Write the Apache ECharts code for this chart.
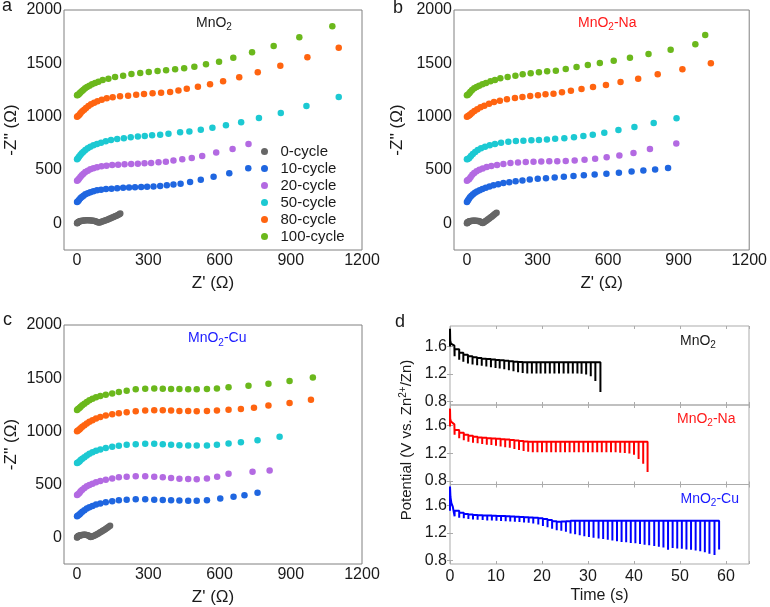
<!DOCTYPE html>
<html><head><meta charset="utf-8">
<script src="https://cdn.jsdelivr.net/npm/echarts@6/dist/echarts.min.js"></script>
<style>html,body{margin:0;padding:0;background:#fff}#c{width:770px;height:607px}</style>
</head><body><div id="c"></div>
<script>
// ---------------- DATA ----------------
const cycleNames = ['0-cycle','10-cycle','20-cycle','50-cycle','80-cycle','100-cycle'];
const zTicksX = [0,300,600,900,1200];
const zTicksY = [0,500,1000,1500,2000];
const vTicks = [0.8,1.2,1.6];
const tTicks = [0,10,20,30,40,50,60];

// Panel a (MnO2)
const a_c0_x = [0,1,2,4,6,8,11,14,18,22,27,32,38,44,50,56,62,68,74,80,85,90,95,100,106,112,118,124,130,136,142,148,154,160,166,172,178,182];
const a_c0_y = [0,3,6,10,13,16,19,21,23,25,26,27,28,28,28,27,26,24,21,17,12,7,8,12,17,22,27,32,37,42,48,54,60,66,72,79,86,92];
const a_c10_x = [0,4,8,14,20,27,35,45,56,69,84,101,122,145,169,194,219,244,270,295,322,350,378,406,436,476,521,575,641,721];
const a_c10_y = [200,206,219,234,247,259,272,281,291,300,309,316,322,325,330,334,337,339,341,343,346,350,356,363,372,388,408,436,470,516];
const a_c20_x = [0,4,8,14,20,27,35,45,56,69,84,103,124,148,173,200,228,256,284,312,343,374,406,443,483,527,586,655,722];
const a_c20_y = [400,406,419,434,450,466,481,494,506,516,525,534,541,547,550,553,556,559,563,566,572,578,588,600,613,631,663,697,744];
const a_c50_x = [0,4,8,14,20,27,35,45,56,69,84,101,121,143,169,197,226,256,285,316,350,385,434,473,521,570,627,691,766,858,966,1102];
const a_c50_y = [600,609,625,641,656,672,688,703,719,731,744,756,769,781,791,797,806,813,819,825,831,840,853,862,878,896,919,947,987,1034,1100,1184];
const a_c80_x = [0,4,10,15,22,30,38,48,59,72,86,104,125,150,181,215,249,282,318,354,392,427,462,509,560,615,683,761,856,970,1102];
const a_c80_y = [1000,1006,1019,1034,1050,1066,1081,1100,1116,1131,1144,1159,1172,1181,1191,1197,1206,1213,1219,1225,1232,1245,1262,1281,1303,1331,1369,1416,1478,1556,1646];
const a_c100_x = [0,3,7,11,15,21,27,34,42,52,63,76,90,108,132,160,194,229,266,302,339,375,413,451,494,543,598,658,737,828,936,1075];
const a_c100_y = [1200,1203,1209,1219,1228,1241,1253,1266,1278,1291,1303,1316,1328,1344,1356,1372,1384,1400,1409,1419,1428,1434,1444,1453,1468,1491,1515,1552,1603,1662,1744,1847];

// Panel b (MnO2-Na)
const b_c0_x = [0,1,2,3,5,7,9,12,15,19,23,27,31,35,40,45,50,55,60,64,67,71,75,80,85,90,95,100,105,110,115,120,126];
const b_c0_y = [0,3,6,9,12,15,17,19,21,23,24,25,25,25,24,23,21,17,12,6,3,8,14,22,30,38,46,54,62,71,80,89,100];
const b_c10_x = [0,4,8,13,19,26,34,43,54,66,80,96,113,133,155,180,207,236,267,301,336,373,412,453,497,543,593,646,700,750,800,855];
const b_c10_y = [200,214,229,244,259,273,286,299,310,321,334,346,357,367,377,386,394,402,410,417,423,430,436,443,450,458,466,475,485,495,505,518];
const b_c20_x = [0,4,10,16,23,31,41,53,67,84,104,128,155,185,217,250,283,316,350,384,420,458,500,545,594,648,708,778,890];
const b_c20_y = [400,406,415,435,455,472,488,502,515,528,538,548,557,565,571,575,578,580,581,582,584,588,595,606,620,636,660,697,748];
const b_c50_x = [0,4,10,17,25,35,46,60,77,97,119,145,176,208,240,274,306,340,375,414,455,495,535,584,644,712,794,891];
const b_c50_y = [600,604,613,631,650,669,688,703,719,731,744,756,766,772,775,778,781,786,792,798,806,818,831,849,875,903,940,984];
const b_c80_x = [0,5,10,15,22,32,44,58,74,94,115,140,170,204,236,269,302,334,368,404,442,487,536,591,653,728,811,916,1037];
const b_c80_y = [1000,1006,1014,1022,1036,1053,1069,1088,1103,1122,1138,1150,1163,1175,1184,1194,1200,1209,1216,1228,1243,1259,1278,1297,1325,1356,1397,1444,1500];
const b_c100_x = [0,4,10,15,22,31,41,52,66,81,100,119,142,173,206,237,271,306,341,378,420,466,514,565,624,693,772,866,971,1013];
const b_c100_y = [1200,1206,1219,1234,1250,1266,1278,1291,1303,1316,1331,1344,1359,1372,1384,1397,1406,1416,1425,1431,1447,1465,1484,1503,1525,1553,1587,1628,1678,1765];

// Panel c (MnO2-Cu)
const c_c0_x = [0,1,2,3,5,7,9,12,15,19,23,27,31,35,40,45,50,54,57,61,66,72,78,84,90,96,102,108,114,120,126,132,139];
const c_c0_y = [0,3,6,9,12,15,17,19,21,23,24,25,25,25,24,21,15,9,5,7,11,17,24,31,38,46,54,62,70,79,88,98,109];
const c_c10_x = [0,4,10,15,22,31,41,52,65,80,98,121,148,176,209,247,287,325,361,396,431,468,504,547,603,659,705,760];
const c_c10_y = [200,206,216,228,241,256,272,284,297,309,319,331,341,350,356,359,359,356,353,350,347,345,345,350,366,384,397,420];
const c_c20_x = [0,4,10,15,22,31,41,52,65,80,98,121,148,176,209,247,287,325,361,396,431,468,504,547,590,638,739,811];
const c_c20_y = [400,406,419,434,450,466,481,494,506,519,531,544,556,566,572,575,575,572,566,559,553,550,547,556,572,600,619,631];
const c_c50_x = [0,4,10,15,22,31,41,52,65,80,98,121,148,176,209,247,287,325,361,396,431,468,504,547,589,638,690,760,853];
const c_c50_y = [700,706,716,728,741,756,772,788,803,816,828,841,853,863,872,878,881,881,878,872,869,866,866,866,872,884,897,916,947];
const c_c80_x = [0,4,10,15,22,31,41,52,65,80,98,121,148,176,209,247,287,325,361,396,431,468,504,547,589,638,690,745,806,895,985];
const c_c80_y = [1000,1006,1016,1028,1041,1056,1072,1088,1103,1119,1134,1147,1159,1169,1178,1188,1194,1197,1197,1194,1191,1191,1188,1191,1194,1203,1209,1222,1241,1266,1297];
const c_c100_x = [0,4,10,15,22,31,41,52,65,80,98,121,148,176,209,247,287,325,361,396,431,468,504,547,589,638,722,806,895,993];
const c_c100_y = [1200,1209,1219,1231,1244,1259,1275,1291,1306,1319,1331,1344,1356,1369,1381,1394,1400,1403,1400,1397,1397,1394,1394,1397,1403,1413,1428,1447,1472,1506];

// Panel d: GITT curves (initial relaxation, then pulse times, rest potential after pulse, pulse minimum)
const d_mno2_init_t = [0,0,0.05,0.2,0.5,0.95];
const d_mno2_init_v = [1.60,1.86,1.69,1.645,1.63,1.615];
const d_mno2_t = [1.0,2.0,2.9,3.9,4.9,5.9,6.9,7.9,8.9,9.9,10.8,11.8,12.8,13.8,14.8,15.8,16.8,17.8,18.8,19.7,20.7,21.7,22.7,23.7,24.7,25.7,26.7,27.7,28.6,29.6,30.6,31.6,32.7];
const d_mno2_rest = [1.56,1.51,1.48,1.46,1.445,1.435,1.425,1.418,1.412,1.406,1.40,1.394,1.388,1.38,1.375,1.372,1.372,1.372,1.372,1.372,1.372,1.372,1.372,1.372,1.372,1.372,1.372,1.372,1.372,1.372,1.372,1.372];
const d_mno2_min = [1.46,1.41,1.38,1.355,1.34,1.33,1.32,1.31,1.30,1.29,1.28,1.27,1.255,1.24,1.225,1.215,1.21,1.21,1.21,1.21,1.21,1.21,1.21,1.21,1.21,1.21,1.21,1.21,1.205,1.195,1.17,1.10,0.94];

const d_na_init_t = [0,0,0.05,0.2,0.5,0.95];
const d_na_init_v = [1.59,1.85,1.70,1.66,1.635,1.62];
const d_na_t = [1,2,3,4,5,6,7,8,9,10,11,12,13,14,15,16,17,18,19,20,21,22,23,24,25,26,27,28,29,30,31,32,33,34,35,36,37,38,39,40,41,42,42.95];
const d_na_rest = [1.54,1.50,1.47,1.455,1.44,1.43,1.425,1.42,1.415,1.41,1.405,1.40,1.395,1.385,1.378,1.372,1.37,1.37,1.37,1.37,1.37,1.37,1.37,1.37,1.37,1.37,1.37,1.37,1.37,1.37,1.37,1.37,1.37,1.37,1.37,1.37,1.37,1.37,1.37,1.37,1.37,1.37];
const d_na_min = [1.47,1.42,1.39,1.37,1.355,1.345,1.335,1.325,1.32,1.31,1.30,1.29,1.28,1.265,1.25,1.235,1.225,1.215,1.215,1.215,1.215,1.215,1.215,1.215,1.215,1.215,1.215,1.215,1.215,1.215,1.215,1.215,1.215,1.215,1.215,1.215,1.21,1.205,1.20,1.18,1.12,1.05,0.93];

const d_cu_init_t = [0,0,0.1,0.3,0.6,0.9];
const d_cu_init_v = [1.52,1.87,1.72,1.63,1.58,1.56];
const d_cu_t = [1.0,2.0,3.0,4.0,5.0,6.0,7.1,8.1,9.1,10.1,11.1,12.1,13.1,14.1,15.1,16.1,17.1,18.1,19.2,20.2,21.2,22.2,23.2,24.2,25.2,26.2,27.2,28.2,29.2,30.2,31.2,32.3,33.3,34.3,35.3,36.3,37.3,38.3,39.3,40.3,41.3,42.3,43.3,44.4,45.4,46.4,47.4,48.4,49.4,50.4,51.4,52.4,53.4,54.4,55.4,56.4,57.5,58.5];
const d_cu_rest = [1.52,1.49,1.475,1.465,1.46,1.455,1.452,1.45,1.448,1.445,1.443,1.44,1.437,1.434,1.43,1.427,1.423,1.418,1.41,1.40,1.385,1.37,1.36,1.365,1.37,1.375,1.375,1.375,1.375,1.375,1.375,1.375,1.375,1.375,1.375,1.375,1.375,1.375,1.375,1.375,1.375,1.375,1.375,1.375,1.375,1.375,1.375,1.375,1.375,1.375,1.375,1.375,1.375,1.375,1.375,1.375,1.375];
const d_cu_min = [1.44,1.42,1.41,1.40,1.395,1.39,1.385,1.38,1.378,1.375,1.372,1.37,1.366,1.362,1.358,1.352,1.345,1.335,1.32,1.30,1.28,1.26,1.24,1.23,1.215,1.19,1.18,1.165,1.15,1.14,1.13,1.12,1.11,1.10,1.09,1.08,1.07,1.065,1.055,1.05,1.04,1.03,1.02,1.01,1.0,0.99,0.955,0.98,0.975,0.97,0.96,0.955,0.945,0.935,0.92,0.90,0.88,0.96];

// ---------------- CHART ----------------
const FONT = "'Liberation Sans', Arial, Helvetica, sans-serif";
const TXT = '#1a1a1a';
const cycleColors = ['#666666','#1f66e0','#b36ae2','#1cc9d2','#ff6410','#6bb81c'];
const frameAC = '#808080';
const frameD = '#ababab';

function pairs(xs, ys){ return xs.map((x,i)=>[x, ys[i]]); }
function gitt(it, iv, ts, rest, mins){
  const out = pairs(it, iv);
  let prev = iv[iv.length-1];
  for (let i=0;i<ts.length;i++){
    out.push([ts[i], prev]);
    out.push([ts[i], mins[i]]);
    if (i < rest.length){ out.push([ts[i], rest[i]]); prev = rest[i]; }
  }
  return out;
}

const panels = [
  [[a_c0_x,a_c0_y],[a_c10_x,a_c10_y],[a_c20_x,a_c20_y],[a_c50_x,a_c50_y],[a_c80_x,a_c80_y],[a_c100_x,a_c100_y]],
  [[b_c0_x,b_c0_y],[b_c10_x,b_c10_y],[b_c20_x,b_c20_y],[b_c50_x,b_c50_y],[b_c80_x,b_c80_y],[b_c100_x,b_c100_y]],
  [[c_c0_x,c_c0_y],[c_c10_x,c_c10_y],[c_c20_x,c_c20_y],[c_c50_x,c_c50_y],[c_c80_x,c_c80_y],[c_c100_x,c_c100_y]]
];

const grid = [
  {left:64, top:10, width:298, height:240},
  {left:454, top:10, width:298, height:240},
  {left:64, top:325, width:298, height:240},
  {left:450, top:326, width:299, height:79},
  {left:450, top:405, width:299, height:79.5},
  {left:450, top:484.5, width:299, height:79.5}
].map((g,i)=>Object.assign(g, {show:true, borderWidth:1, borderColor: i<3?frameAC:frameD, backgroundColor:'transparent', containLabel:false}));

const plain = v => String(v);
const xAxis = [], yAxis = [];
[0,1,2].forEach(gi=>{
  xAxis.push({gridIndex:gi, type:'value', min:-55, max:1200, name:"Z' (Ω)", nameLocation:'middle', nameGap:25,
    nameTextStyle:{fontSize:17, color:TXT, fontFamily:FONT},
    axisLine:{show:false}, axisTick:{show:false}, splitLine:{show:false},
    axisLabel:{customValues:zTicksX, formatter:plain, fontSize:16, color:TXT, fontFamily:FONT, margin:3}});
  yAxis.push({gridIndex:gi, type:'value', min:-250, max:2000, name:"-Z'' (Ω)", nameLocation:'middle', nameGap: gi===1?48:44,
    nameTextStyle:{fontSize:17, color:TXT, fontFamily:FONT},
    axisLine:{show:false}, axisTick:{show:false}, splitLine:{show:false},
    axisLabel:{customValues:zTicksY, formatter:plain, fontSize:16, color:TXT, fontFamily:FONT, margin:2}});
});
[3,4,5].forEach(gi=>{
  xAxis.push({gridIndex:gi, type:'value', min:0, max:65, interval:10, position:'bottom',
    name: gi===5 ? 'Time (s)' : '', nameLocation:'middle', nameGap:24,
    nameTextStyle:{fontSize:16, color:TXT, fontFamily:FONT},
    axisLine:{show:false}, splitLine:{show:false},
    axisTick:{show:true, inside:true, length:3, lineStyle:{color:frameD}},
    axisLabel:{show: gi===5, customValues:tTicks, formatter:plain, fontSize:16, color:TXT, fontFamily:FONT, margin:5}});
  xAxis.push({gridIndex:gi, type:'value', min:0, max:65, interval:10, position:'top',
    axisLine:{show:false}, splitLine:{show:false},
    axisTick:{show:true, inside:true, length:3, lineStyle:{color:frameD}}, axisLabel:{show:false}});
  yAxis.push({gridIndex:gi, type:'value', min:0.75, max:1.9, position:'left',
    axisLine:{show:false}, splitLine:{show:false},
    axisTick:{show:true, inside:true, length:3, customValues:vTicks, lineStyle:{color:frameD}},
    axisLabel:{customValues:vTicks, fontSize:16, color:TXT, fontFamily:FONT, margin:3, formatter:v=>v.toFixed(1)}});
  yAxis.push({gridIndex:gi, type:'value', min:0.75, max:1.9, position:'right',
    axisLine:{show:false}, splitLine:{show:false},
    axisTick:{show:true, inside:true, length:3, customValues:vTicks, lineStyle:{color:frameD}}, axisLabel:{show:false}});
});

const series = [];
panels.forEach((p, pi)=>{
  p.forEach((s, si)=>{
    series.push({type:'scatter', name:cycleNames[si], xAxisIndex:pi, yAxisIndex:pi,
      symbol:'circle', symbolSize:6.5, itemStyle:{color:cycleColors[si], opacity:1},
      data: pairs(s[0], s[1]), silent:true});
  });
});
const gittSets = [
  [d_mno2_init_t,d_mno2_init_v,d_mno2_t,d_mno2_rest,d_mno2_min,'#000000'],
  [d_na_init_t,d_na_init_v,d_na_t,d_na_rest,d_na_min,'#ff0000'],
  [d_cu_init_t,d_cu_init_v,d_cu_t,d_cu_rest,d_cu_min,'#0000ff']
];
gittSets.forEach((g, k)=>{
  series.push({type:'line', xAxisIndex:3+2*k, yAxisIndex:3+2*k, showSymbol:false, symbol:'none',
    lineStyle:{color:g[5], width:2}, data: gitt(g[0],g[1],g[2],g[3],g[4]), silent:true});
});

function label(x, y, txt, size, color, align){
  return {type:'text', x:x, y:y, silent:true, style:{text:txt, fontSize:size, fontFamily:FONT, fill:color,
    align:align||'left', verticalAlign:'middle', textAlign:align||'left', textVerticalAlign:'middle'}};
}
function chem(x, y, tail, color){
  return {type:'text', x:x, y:y, silent:true, style:{
    text:'{n|MnO}{s|2}{n|'+tail+'}', fill:color, fontFamily:FONT, fontSize:14,
    align:'left', verticalAlign:'middle', textAlign:'left', textVerticalAlign:'middle',
    rich:{ n:{fontSize:14, fill:color, fontFamily:FONT, lineHeight:19},
           s:{fontSize:10, fill:color, fontFamily:FONT, lineHeight:10, verticalAlign:'bottom'} } }};
}

const graphic = [
  label(2, 6.5, 'a', 18, TXT),
  label(393, 8.5, 'b', 18, TXT),
  label(3, 320.5, 'c', 18, TXT),
  label(395, 322.5, 'd', 18, TXT),
  chem(196, 23, '', TXT),
  chem(578, 23, '-Na', '#ff1a1a'),
  chem(188, 338.5, '-Cu', '#1a1aff'),
  chem(680, 341, '', TXT),
  chem(677, 419, '-Na', '#ff1a1a'),
  chem(680.5, 499, '-Cu', '#1a1aff'),
  {type:'text', x:407, y:440, rotation:Math.PI/2, silent:true, style:{
    text:'Potential (V vs. Zn{p|2+}/Zn)', fill:TXT, fontFamily:FONT, fontSize:15, lineHeight:18,
    align:'center', verticalAlign:'middle', textAlign:'center', textVerticalAlign:'middle',
    rich:{ p:{fontSize:10, fill:TXT, fontFamily:FONT, lineHeight:10, verticalAlign:'top'} } }}
];

const chart = echarts.init(document.getElementById('c'), null, {renderer:'canvas'});
chart.setOption({
  animation:false,
  backgroundColor:'#ffffff',
  textStyle:{fontFamily:FONT},
  grid: grid,
  xAxis: xAxis,
  yAxis: yAxis,
  legend:{data:cycleNames, orient:'vertical', left:261, top:144, itemWidth:22, itemHeight:7, itemGap:2,
    icon:'circle', selectedMode:false, padding:0, textStyle:{fontSize:15, color:TXT, fontFamily:FONT}},
  series: series,
  graphic: graphic
});
</script></body></html>
